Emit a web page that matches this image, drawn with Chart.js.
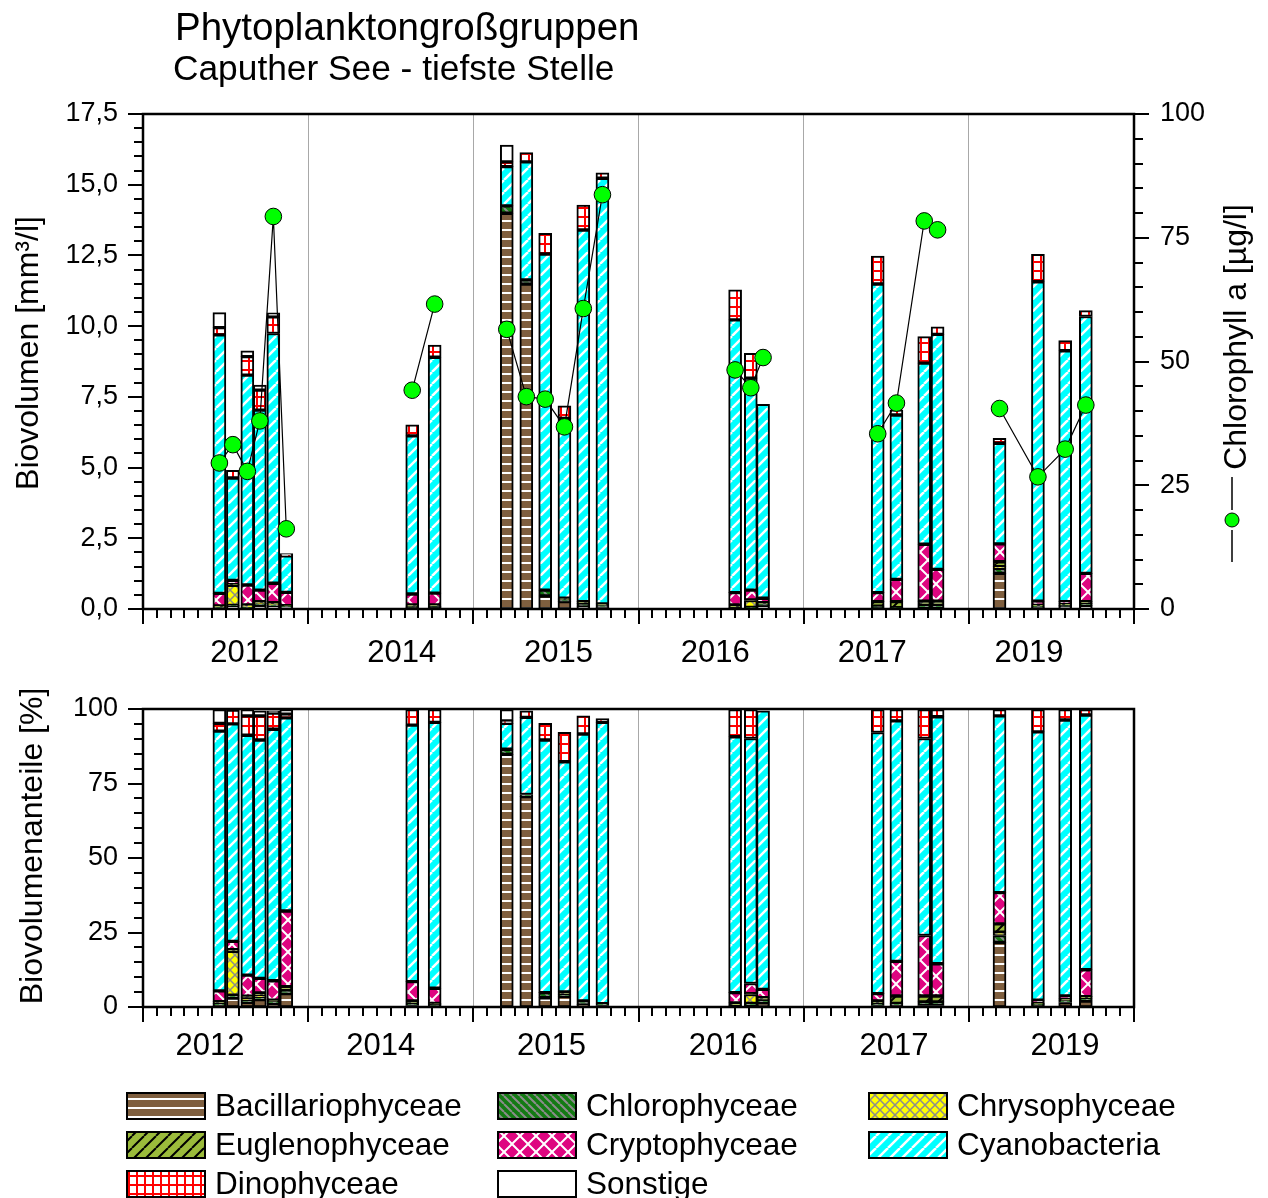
<!DOCTYPE html>
<html>
<head>
<meta charset="utf-8">
<script src="https://cdn.jsdelivr.net/npm/chart.js@4/dist/chart.umd.min.js"></script>
<style>
body { margin: 0; background: #fff; width: 1268px; height: 1198px; overflow: hidden; position: relative; }
canvas { position: absolute; left: 0; }
#oben { top: 0; }
#unten { top: 680px; }
</style>
</head>
<body>
<canvas id="oben" width="1268" height="680"></canvas>
<canvas id="unten" width="1268" height="518"></canvas>
<script>
// Probenahmen: x in Monaten, jedes Jahr bekommt 12 Einheiten
var sampleX = [5.55, 6.53, 7.58, 8.49, 9.47, 10.41,
               19.56, 21.19,
               26.43, 27.85, 29.22, 30.62, 31.99, 33.38,
               43.02, 44.16, 45.05,
               53.38, 54.74, 56.76, 57.73,
               62.23, 65.02, 67.0, 68.5];
var groupSize = [6, 2, 6, 3, 4, 4];
var years = ['2012', '2014', '2015', '2016', '2017', '2019'];
var yearPosTop = [7.4, 18.8, 30.19, 41.58, 52.98, 64.37];
var yearPosBottom = [4.86, 17.27, 29.68, 42.16, 54.57, 66.98];

// Biovolumen [mm³/l]
var bacVol    = [0.04, 0.10, 0.04, 0.12, 0.10, 0.08, 0.05, 0.05, 13.99, 11.49, 0.46, 0.26, 0.08, 0.06, 0.02, 0.04, 0.12, 0.04, 0.03, 0.04, 0.04, 1.26, 0.06, 0.08, 0.12];
var chloVol   = [0.03, 0.03, 0.02, 0.06, 0.04, 0.02, 0.03, 0.04, 0.26, 0.14, 0.21, 0.06, 0.12, 0.08, 0.02, 0.02, 0.05, 0.06, 0.02, 0.10, 0.10, 0.18, 0.04, 0.05, 0.08];
var chrysVol  = [0, 0.71, 0.05, 0.02, 0.04, 0, 0, 0, 0, 0, 0, 0, 0, 0, 0, 0.24, 0, 0, 0, 0, 0, 0.06, 0, 0, 0];
var euglVol   = [0.04, 0.03, 0.03, 0.06, 0.04, 0.02, 0.06, 0.05, 0, 0, 0, 0.06, 0.06, 0.04, 0.10, 0.02, 0.05, 0.16, 0.21, 0.14, 0.14, 0.17, 0.04, 0.05, 0.06];
var cryptoVol = [0.44, 0.14, 0.71, 0.41, 0.69, 0.47, 0.39, 0.42, 0, 0, 0, 0, 0, 0, 0.44, 0.35, 0.16, 0.32, 0.79, 2.01, 1.12, 0.63, 0.14, 0.08, 1.00];
var cyanoVol  = [9.14, 3.62, 7.42, 6.36, 8.83, 1.29, 5.59, 8.34, 1.39, 4.18, 11.88, 6.36, 13.14, 15.05, 9.64, 7.49, 6.86, 10.91, 5.81, 6.40, 8.31, 3.56, 11.29, 8.87, 9.08];
var dinoVol   = [0.26, 0.27, 0.65, 0.71, 0.59, 0.03, 0.39, 0.43, 0.17, 0.33, 0.73, 0.44, 0.88, 0.19, 1.06, 0.88, 0, 0.99, 0.18, 0.94, 0.27, 0.17, 0.97, 0.36, 0.21];
var sonstVol  = [0.53, 0, 0.21, 0.18, 0.14, 0.05, 0, 0, 0.59, 0, 0, 0, 0, 0, 0, 0, 0, 0, 0, 0, 0, 0, 0, 0, 0];

// Biovolumenanteile [%]
var bacPct    = [0.6, 3.0, 1.6, 2.5, 1.2, 4.5, 0.5, 0.4, 84.8, 70.6, 3.1, 3.6, 0.8, 0.5, 0.4, 0.4, 1.4, 0.5, 0.6, 0.5, 0.5, 21.7, 0.6, 1.5, 2.0];
var chloPct   = [0.6, 1.0, 0.5, 0.8, 0.5, 1.0, 0.5, 0.4, 1.7, 0.7, 1.7, 0.5, 1.2, 0.6, 0, 0.8, 1.0, 0.5, 0.6, 1.2, 1.2, 2.3, 0.3, 0.6, 1.0];
var chrysPct  = [0, 14.7, 1.0, 0.4, 0, 0, 0, 0, 0, 0, 0, 0, 0, 0, 0, 3.0, 0, 0, 0, 0, 0, 1.1, 0, 0, 0];
var euglPct   = [0.6, 0.5, 0.5, 1.0, 0.6, 1.3, 1.0, 0.4, 0, 0, 0, 1.0, 0, 0, 1.0, 0.3, 0.7, 1.0, 2.5, 2.0, 2.0, 2.8, 0.3, 0.6, 0.5];
var cryptoPct = [3.6, 2.8, 7.1, 4.9, 6.5, 25.4, 6.5, 5.1, 0, 0, 0, 0, 0, 0, 3.4, 3.4, 2.8, 2.5, 11.6, 20.3, 10.8, 10.5, 1.1, 1.0, 9.0];
var cyanoPct  = [87.2, 73.0, 80.5, 80.0, 84.4, 64.8, 86.1, 89.2, 8.7, 25.9, 84.8, 77.2, 89.6, 94.4, 85.9, 82.2, 93.5, 87.6, 80.7, 66.1, 82.9, 59.3, 90.0, 92.6, 85.5];
var dinoPct   = [2.6, 4.6, 6.5, 8.1, 5.4, 1.3, 5.2, 4.3, 0.8, 2.2, 5.6, 9.9, 6.1, 1.3, 9.1, 9.7, 0, 7.7, 3.8, 9.7, 2.4, 2.1, 7.5, 3.5, 1.8];
var sonstPct  = [4.6, 0, 2.1, 1.7, 0.8, 1.5, 0, 0, 3.8, 0, 0, 0, 0, 0, 0, 0, 0, 0, 0, 0, 0, 0, 0, 0, 0];

// Chlorophyll a [µg/l]
var chlA = [29.5, 33.2, 27.8, 38.0, 79.3, 16.2, 44.2, 61.6, 56.5, 42.9, 42.4, 36.8, 60.7, 83.7, 48.3, 44.7, 50.8, 35.4, 41.6, 78.4, 76.6, 40.5, 26.7, 32.3, 41.2];

var FONT = "'Liberation Sans', Arial, sans-serif";
Chart.defaults.font.family = FONT;
Chart.defaults.color = '#000';
Chart.defaults.animation = false;

// Füllmuster
function muster(w, h, grund, zeichnen) {
	var c = document.createElement('canvas');
	c.width = w; c.height = h;
	var g = c.getContext('2d');
	g.fillStyle = grund;
	g.fillRect(0, 0, w, h);
	if (zeichnen) zeichnen(g);
	return g.createPattern(c, 'repeat');
}
function schraeg(g, w, farbe, breite, richtung) {
	g.strokeStyle = farbe; g.lineWidth = breite;
	g.beginPath();
	for (var k = -w; k <= w; k += w) {
		if (richtung > 0) { g.moveTo(k, w); g.lineTo(k + w, 0); }		// "/"
		else { g.moveTo(k, 0); g.lineTo(k + w, w); }					// "\"
	}
	g.stroke();
}

var gruppen = [
	{ name: 'Bacillariophyceae', vol: bacVol, pct: bacPct,
	  fill: muster(8, 9, '#7f5f3f', function (g) { g.fillStyle = '#fff'; g.fillRect(0, 4, 8, 2); }) },
	{ name: 'Chlorophyceae', vol: chloVol, pct: chloPct,
	  fill: muster(8, 8, '#137a13', function (g) { schraeg(g, 8, '#8c8c8c', 2, -1); }) },
	{ name: 'Chrysophyceae', vol: chrysVol, pct: chrysPct,
	  fill: muster(10, 10, '#ffff00', function (g) { schraeg(g, 10, '#8c8c8c', 1.5, 1); schraeg(g, 10, '#8c8c8c', 1.5, -1); }) },
	{ name: 'Euglenophyceae', vol: euglVol, pct: euglPct,
	  fill: muster(12, 12, '#9bbb3b', function (g) { schraeg(g, 12, '#000', 2, 1); }) },
	{ name: 'Cryptophyceae', vol: cryptoVol, pct: cryptoPct,
	  fill: muster(16, 16, '#de0580', function (g) { schraeg(g, 16, '#fff', 2, 1); schraeg(g, 16, '#fff', 2, -1); }) },
	{ name: 'Cyanobacteria', vol: cyanoVol, pct: cyanoPct,
	  fill: muster(12, 12, '#00ffff', function (g) { schraeg(g, 12, '#fff', 2.5, 1); }) },
	{ name: 'Dinophyceae', vol: dinoVol, pct: dinoPct,
	  fill: muster(8, 9, '#fff', function (g) { g.fillStyle = '#ff0000'; g.fillRect(0, 0, 8, 2); g.fillRect(0, 0, 2, 9); }) },
	{ name: 'Sonstige', vol: sonstVol, pct: sonstPct, fill: '#ffffff' }
];

function balken(key) {
	return gruppen.map(function (gr) {
		return {
			type: 'bar',
			label: gr.name,
			data: sampleX.map(function (x, j) { return { x: x, y: gr[key][j] || null }; }),
			backgroundColor: gr.fill,
			borderColor: '#000',
			borderWidth: 2,
			borderSkipped: false,
			barThickness: 13,
			yAxisID: 'y',
			order: 1
		};
	});
}

// Chlorophyll-Linie, zwischen den Jahren unterbrochen
function chlLinie() {
	var pts = [], j = 0;
	groupSize.forEach(function (n, k) {
		for (var i = 0; i < n; i++, j++) pts.push({ x: sampleX[j], y: chlA[j] });
		if (k < groupSize.length - 1) pts.push({ x: 12 * (k + 1), y: null });
	});
	return pts;
}

function xTicks(pos) {
	return [12, 24, 36, 48, 60].concat(pos).sort(function (a, b) { return a - b; })
		.map(function (v) { return { value: v }; });
}
function xAchse(pos, hoehe, pad) {
	return {
		type: 'linear', min: 0, max: 72, stacked: true, offset: false,
		afterBuildTicks: function (s) { s.ticks = xTicks(pos); },
		afterFit: function (s) { s.height = hoehe; },
		grid: {
			offset: false, drawTicks: false, lineWidth: 1,
			color: function (c) { return c.tick && c.tick.value % 12 === 0 ? '#a8a8a8' : 'rgba(0,0,0,0)'; }
		},
		border: { display: false },
		ticks: {
			autoSkip: false, maxRotation: 0, padding: pad, font: { size: 31 },
			callback: function (v) { var i = pos.indexOf(v); return i < 0 ? '' : years[i]; }
		}
	};
}
function yBreite(w) {
	return function (s) { s.width = w; s.paddingTop = 0; s.paddingBottom = 0; };
}

// Rahmen und Teilstriche
var rahmen = {
	id: 'rahmen',
	beforeDraw: function (chart) {
		var c = chart.ctx;
		c.save(); c.fillStyle = '#fff'; c.fillRect(0, 0, chart.width, chart.height); c.restore();
	},
	afterDraw: function (chart, args, opts) {
		var c = chart.ctx, a = chart.chartArea, sx = chart.scales.x;
		c.save();
		c.strokeStyle = '#000';
		c.lineWidth = 2;
		c.beginPath();
		for (var m = 0; m <= 72; m++) {
			var px = Math.round(sx.getPixelForValue(m));
			c.moveTo(px, a.bottom); c.lineTo(px, a.bottom + (m % 12 ? 9 : 15));
		}
		opts.achsen.forEach(function (ax) {
			var s = chart.scales[ax.id], n = Math.round(ax.max / ax.step);
			for (var k = 0; k <= n; k++) {
				var py = Math.round(s.getPixelForValue(k * ax.step));
				var len = k % ax.every ? 9 : 15;
				var x0 = ax.side === 'left' ? a.left : a.right;
				c.moveTo(x0, py); c.lineTo(ax.side === 'left' ? x0 - len : x0 + len, py);
			}
		});
		c.stroke();
		c.lineWidth = 2.5;
		c.strokeRect(a.left, a.top, a.right - a.left, a.bottom - a.top);
		c.restore();
	}
};

function drehText(c, text, x, y, size) {
	c.save();
	c.translate(x, y);
	c.rotate(-Math.PI / 2);
	c.font = size + 'px ' + FONT;
	c.textAlign = 'center';
	c.textBaseline = 'alphabetic';
	c.fillText(text, 0, 0);
	c.restore();
}

var texteOben = {
	id: 'texteOben',
	afterDraw: function (chart) {
		var c = chart.ctx;
		c.save();
		c.fillStyle = '#000';
		c.textBaseline = 'alphabetic';
		c.font = '38.5px ' + FONT;
		c.fillText('Phytoplanktongroßgruppen', 175, 40);
		c.font = '35.3px ' + FONT;
		c.fillText('Caputher See - tiefste Stelle', 173, 80);
		drehText(c, 'Biovolumen [mm³/l]', 38, 353, 32);
		drehText(c, 'Chlorophyll a [µg/l]', 1246, 337, 32);
		// Symbol der Chlorophyll-Linie
		c.strokeStyle = '#000'; c.lineWidth = 1.5;
		c.beginPath();
		c.moveTo(1232, 477); c.lineTo(1232, 510);
		c.moveTo(1232, 530); c.lineTo(1232, 562);
		c.stroke();
		c.beginPath(); c.arc(1232, 520, 7, 0, 2 * Math.PI);
		c.fillStyle = '#00ff00'; c.fill(); c.lineWidth = 1; c.stroke();
		c.restore();
	}
};

var texteUnten = {
	id: 'texteUnten',
	afterDraw: function (chart) {
		var c = chart.ctx;
		c.save();
		c.fillStyle = '#000';
		drehText(c, 'Biovolumenanteile [%]', 42, 166, 32);
		// Legende
		var spalten = [127, 498, 869], zeilen = [426, 465, 504];
		c.font = '31.5px ' + FONT;
		c.textBaseline = 'middle';
		chart.data.datasets.forEach(function (ds, i) {
			var x = spalten[i % 3], y = zeilen[Math.floor(i / 3)];
			c.fillStyle = ds.backgroundColor;
			c.fillRect(x, y - 13, 78, 26);
			c.lineWidth = 2; c.strokeStyle = '#000';
			c.strokeRect(x, y - 13, 78, 26);
			c.fillStyle = '#000';
			c.fillText(ds.label, x + 88, y + 1);
		});
		c.restore();
	}
};

var dsOben = balken('vol');
dsOben.push({
	type: 'line', label: 'Chlorophyll a', data: chlLinie(), yAxisID: 'y2', order: 0,
	borderColor: '#000', borderWidth: 1.2, tension: 0, spanGaps: false,
	pointRadius: 8.3, pointBackgroundColor: '#00ff00', pointBorderColor: '#000', pointBorderWidth: 1
});

new Chart(document.getElementById('oben').getContext('2d'), {
	type: 'bar',
	data: { datasets: dsOben },
	options: {
		responsive: false,
		layout: { padding: { top: 114, left: 0, right: 0, bottom: 0 } },
		plugins: { legend: { display: false }, tooltip: { enabled: false },
			rahmen: { achsen: [{ id: 'y', side: 'left', step: 0.5, every: 5, max: 17.5 },
			                   { id: 'y2', side: 'right', step: 5, every: 5, max: 100 }] } },
		scales: {
			x: xAchse(yearPosTop, 71, 26),
			y: {
				min: 0, max: 17.5, stacked: true,
				afterFit: yBreite(143),
				grid: { display: false, drawTicks: false }, border: { display: false },
				ticks: { stepSize: 2.5, padding: 25, font: { size: 27 },
					callback: function (v) { return v.toFixed(1).replace('.', ','); } }
			},
			y2: {
				position: 'right', min: 0, max: 100,
				afterFit: yBreite(134),
				grid: { display: false, drawTicks: false }, border: { display: false },
				ticks: { stepSize: 25, padding: 26, font: { size: 27 } }
			}
		}
	},
	plugins: [rahmen, texteOben]
});

new Chart(document.getElementById('unten').getContext('2d'), {
	type: 'bar',
	data: { datasets: balken('pct') },
	options: {
		responsive: false,
		layout: { padding: { top: 29, left: 0, right: 134, bottom: 118 } },
		plugins: { legend: { display: false }, tooltip: { enabled: false },
			rahmen: { achsen: [{ id: 'y', side: 'left', step: 5, every: 5, max: 100 }] } },
		scales: {
			x: xAchse(yearPosBottom, 73, 21),
			y: {
				min: 0, max: 100, stacked: true,
				afterFit: yBreite(143),
				grid: { display: false, drawTicks: false }, border: { display: false },
				ticks: { stepSize: 25, padding: 25, font: { size: 27 } }
			}
		}
	},
	plugins: [rahmen, texteUnten]
});
</script>
</body>
</html>
